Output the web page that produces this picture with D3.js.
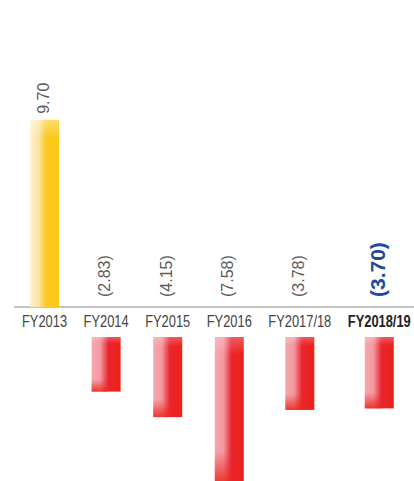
<!DOCTYPE html>
<html>
<head>
<meta charset="utf-8">
<script src="https://cdn.jsdelivr.net/npm/d3@7/dist/d3.min.js"></script>
<style>
  html, body { margin: 0; padding: 0; background: #fff; }
  svg { display: block; }
</style>
</head>
<body>
<svg id="chart" width="414" height="481"></svg>
<script>
// ---- data ----
const categories = ["FY2013", "FY2014", "FY2015", "FY2016", "FY2017/18", "FY2018/19"];
const values = [9.70, -2.83, -4.15, -7.58, -3.78, -3.70];
const valueLabels = ["9.70", "(2.83)", "(4.15)", "(7.58)", "(3.78)", "(3.70)"];
const highlightCategory = "FY2018/19";

// ---- layout ----
const W = 414, H = 481;
const baselineY = 307;
const negOffset = 30;      // negative bars start below the category labels
const barW = 29;
const labelLeft = 22;
const labelGap = 16.5;
const condense = 0.78;     // horizontal squeeze for condensed category labels

const svg = d3.select("#chart");
const defs = svg.append("defs");

function hGrad(id, stops) {
  const g = defs.append("linearGradient").attr("id", id)
    .attr("x1", "0").attr("y1", "0").attr("x2", "1").attr("y2", "0");
  stops.forEach(s => g.append("stop").attr("offset", s[0]).attr("stop-color", s[1]).attr("stop-opacity", s[2] == null ? 1 : s[2]));
}
function vGrad(id, stops) {
  const g = defs.append("linearGradient").attr("id", id)
    .attr("x1", "0").attr("y1", "0").attr("x2", "0").attr("y2", "1");
  stops.forEach(s => g.append("stop").attr("offset", s[0]).attr("stop-color", s[1]).attr("stop-opacity", s[2] == null ? 1 : s[2]));
}
hGrad("gold", [["0%", "#fdf1d0"], ["30%", "#fce59f"], ["48%", "#f9d04a"], ["60%", "#fbca1c"], ["100%", "#fcc918"]]);
vGrad("goldTop", [["0%", "#ffffff", 0.35], ["10%", "#ffffff", 0], ["100%", "#ffffff", 0]]);
hGrad("red", [["0%", "#f5a7ad"], ["30%", "#f398a0"], ["45%", "#ee5a62"], ["58%", "#ea2430"], ["100%", "#ec2216"]]);
vGrad("redBottom", [["0%", "#ec2419", 0], ["78%", "#ec2419", 0], ["100%", "#ec2419", 0.85]]);
vGrad("redTop", [["0%", "#ffffff", 0.25], ["12%", "#ffffff", 0], ["100%", "#ffffff", 0]]);

// category labels (measure for layout)
const catG = svg.append("g");
const catText = catG.selectAll("text").data(categories).join("text")
  .attr("text-anchor", "middle")
  .style("font-family", "'Liberation Sans', Arial, sans-serif")
  .style("font-size", "16.5px")
  .style("font-weight", d => d === highlightCategory ? "bold" : "normal")
  .attr("fill", d => d === highlightCategory ? "#222" : "#444")
  .text(d => d);

const widths = catText.nodes().map(n => n.getComputedTextLength() * condense);
const centers = [];
widths.forEach((w, i) => {
  if (i === 0) centers.push(labelLeft + w / 2);
  else centers.push(centers[i - 1] + (widths[i - 1] + w) / 2 + labelGap);
});
const x = d3.scaleOrdinal().domain(categories).range(centers);
catText.attr("transform", d => `translate(${x(d)},327) scale(${condense},1)`);

// value scale (pixels per unit)
const y = d3.scaleLinear().domain([0, 10]).range([0, 193]);

// axis line
svg.append("line")
  .attr("x1", 14).attr("x2", W)
  .attr("y1", baselineY).attr("y2", baselineY)
  .attr("stroke", "#8a8a8a").attr("stroke-width", 1.2);

const data = categories.map((c, i) => ({ cat: c, v: values[i], label: valueLabels[i] }));

function barY(d) { return d.v >= 0 ? baselineY - y(d.v) : baselineY + negOffset; }
function barH(d) { return y(Math.abs(d.v)); }

const bars = svg.append("g");
bars.selectAll("rect.base").data(data).join("rect")
  .attr("class", "base")
  .attr("x", d => x(d.cat) - barW / 2)
  .attr("y", barY)
  .attr("width", barW)
  .attr("height", barH)
  .attr("fill", d => d.v >= 0 ? "url(#gold)" : "url(#red)");
bars.selectAll("rect.top").data(data).join("rect")
  .attr("class", "top")
  .attr("x", d => x(d.cat) - barW / 2)
  .attr("y", barY)
  .attr("width", barW)
  .attr("height", barH)
  .attr("fill", d => d.v >= 0 ? "url(#goldTop)" : "url(#redTop)");
bars.selectAll("rect.bot").data(data.filter(d => d.v < 0)).join("rect")
  .attr("class", "bot")
  .attr("x", d => x(d.cat) - barW / 2)
  .attr("y", barY)
  .attr("width", barW * 0.55)
  .attr("height", barH)
  .attr("fill", "url(#redBottom)");

// value labels (rotated)
svg.append("g").selectAll("text").data(data).join("text")
  .attr("transform", d => {
    const yy = d.v >= 0 ? baselineY - y(d.v) - 6 : baselineY - 10;
    return `translate(${x(d.cat) - 1.5},${yy}) rotate(-90)`;
  })
  .attr("dominant-baseline", "central")
  .attr("text-anchor", "start")
  .style("font-family", "'Liberation Sans', Arial, sans-serif")
  .style("font-size", d => d.cat === highlightCategory ? "21px" : "16px")
  .style("font-weight", d => d.cat === highlightCategory ? "bold" : "normal")
  .attr("fill", d => d.cat === highlightCategory ? "#1f4c9b" : "#5a5a5a")
  .text(d => d.label);
</script>
</body>
</html>
